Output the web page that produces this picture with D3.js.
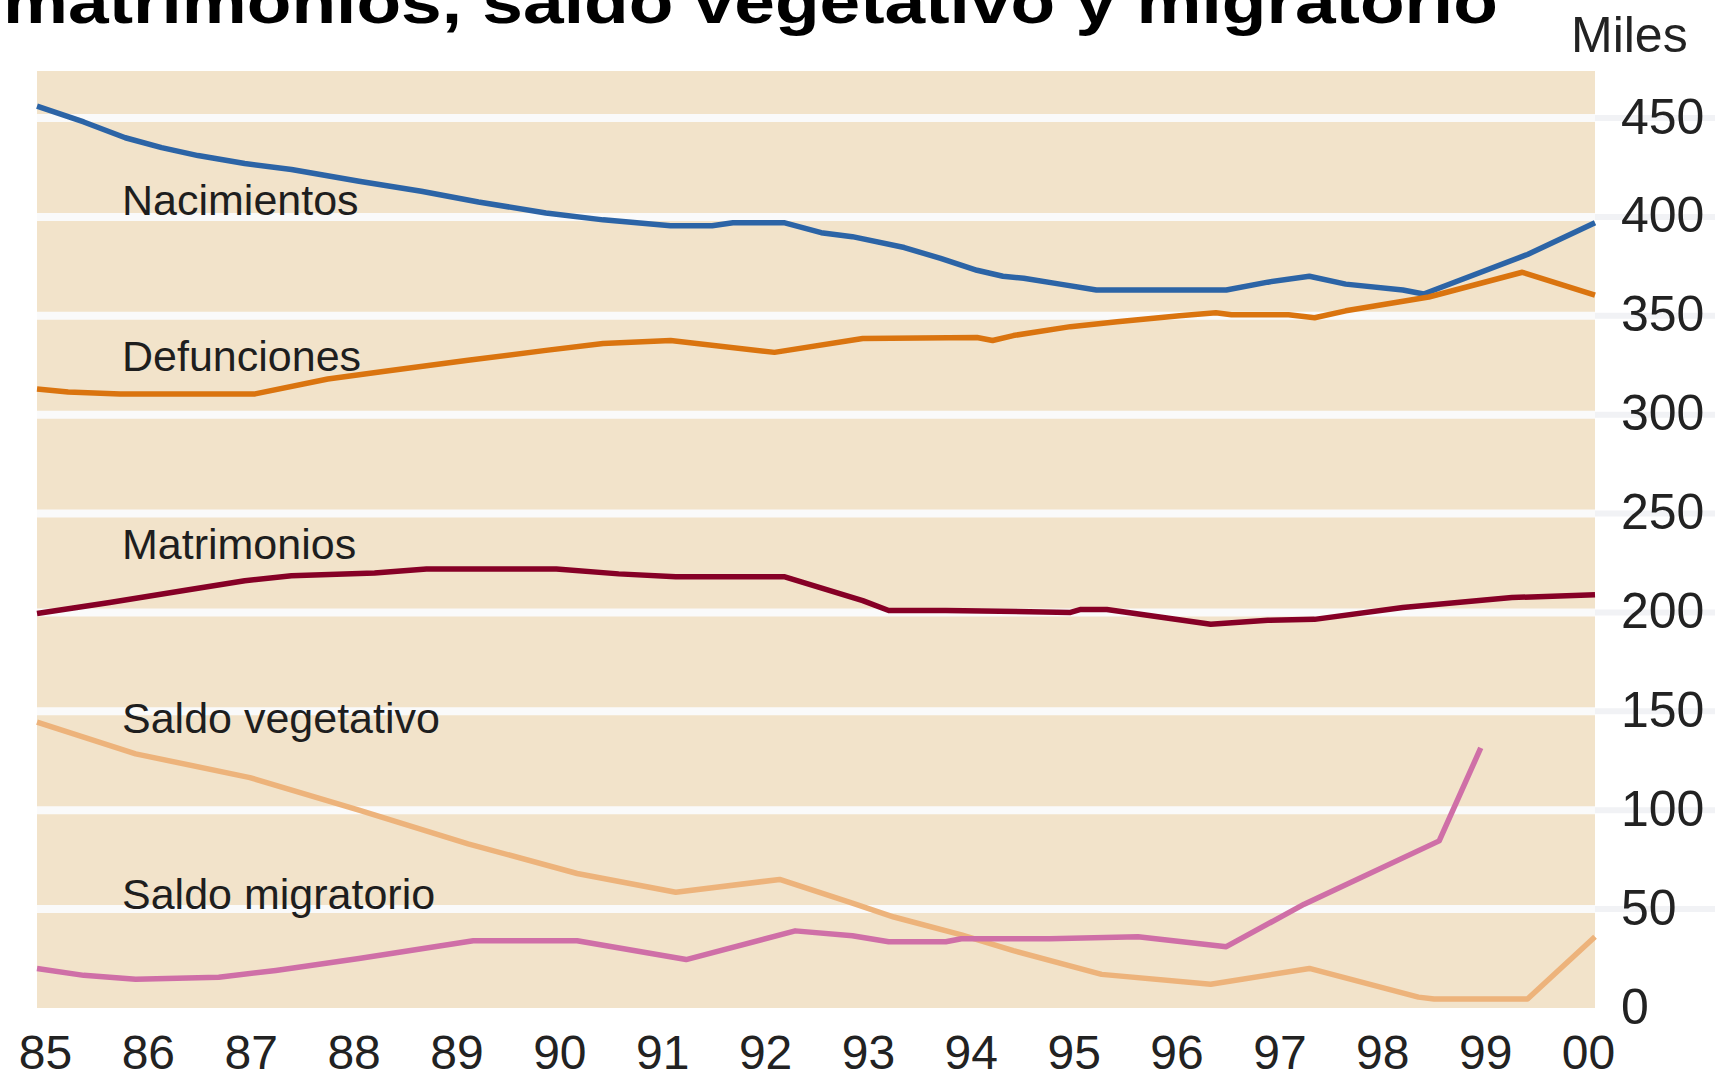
<!DOCTYPE html>
<html>
<head>
<meta charset="utf-8">
<script src="https://cdn.jsdelivr.net/npm/d3@7"></script>
<style>
  body { margin: 0; background: #fff; }
  svg { display: block; }
</style>
</head>
<body>
<div id="container"></div>
<script>
/* CONSTANTS AND GLOBALS */
const width = 1715,
  height = 1080,
  plot = { left: 37, right: 1595, top: 71, bottom: 1008 };

/* DATA (miles) */
const yearLabels = ["85", "86", "87", "88", "89", "90", "91", "92", "93", "94", "95", "96", "97", "98", "99", "00"];
const yTicks = [0, 50, 100, 150, 200, 250, 300, 350, 400, 450];

const nacYears = [1985.0, 1985.45, 1985.85, 1986.2, 1986.55, 1987.0, 1987.45, 1988.1, 1988.7, 1989.25, 1989.9, 1990.45, 1991.1, 1991.5, 1991.7, 1992.2, 1992.55, 1992.85, 1993.35, 1993.7, 1994.05, 1994.3, 1994.5, 1994.85, 1995.2, 1996.45, 1996.85, 1997.25, 1997.6, 1998.15, 1998.35, 1999.35, 2000];
const nacValues = [456, 448, 440, 435, 431, 427, 424, 418, 413, 407.5, 402, 398.5, 395.5, 395.5, 397, 397, 392, 390, 384.5, 379, 373, 370, 369, 366, 363, 363, 367, 370, 366, 363, 361, 381, 397];

const defYears = [1985.0, 1985.3, 1985.8, 1987.1, 1987.8, 1988.35, 1989.15, 1989.9, 1990.45, 1991.1, 1992.1, 1992.95, 1994.05, 1994.2, 1994.4, 1994.95, 1995.4, 1996.0, 1996.35, 1996.5, 1997.05, 1997.3, 1997.6, 1998.4, 1999.3, 2000];
const defValues = [313, 311.5, 310.5, 310.5, 318, 322, 327.5, 332.5, 336, 337.5, 331.5, 338.5, 339, 337.5, 340, 344.5, 347, 350, 351.5, 350.5, 350.5, 349, 352.5, 359.5, 372, 360.5];

const matYears = [1985.0, 1985.7, 1986.4, 1987.0, 1987.45, 1988.25, 1988.75, 1990.0, 1990.6, 1991.15, 1992.2, 1992.95, 1993.2, 1993.75, 1994.95, 1995.05, 1995.3, 1996.3, 1996.85, 1997.3, 1998.15, 1999.2, 2000];
const matValues = [199.5, 205, 211, 216, 218.5, 220, 222, 222, 219.5, 218, 218, 206, 201, 201, 200, 201.5, 201.5, 194, 196, 196.5, 202.5, 207.5, 209];

const vegYears = [1985.0, 1985.95, 1987.05, 1988.1, 1989.15, 1990.2, 1991.15, 1992.15, 1992.85, 1993.25, 1993.9, 1994.4, 1995.25, 1996.3, 1997.25, 1998.3, 1998.45, 1999.35, 2000];
const vegValues = [144.5, 128.5, 116.5, 100, 83, 68, 58.5, 65, 53, 46, 37, 29, 17, 12, 20, 5.5, 4.5, 4.5, 36];

const migYears = [1985.0, 1985.45, 1985.95, 1986.75, 1987.3, 1988.1, 1989.2, 1990.2, 1991.25, 1992.3, 1992.85, 1993.2, 1993.75, 1993.9, 1994.75, 1995.6, 1996.45, 1997.2, 1998.5, 1998.9];
const migValues = [20, 16.5, 14.5, 15.5, 19, 25, 34, 34, 24.5, 39, 36.5, 33.5, 33.5, 35, 35, 36, 31, 52.5, 84.5, 131.5];

const seriesNames = ["Nacimientos", "Defunciones", "Matrimonios", "Saldo vegetativo", "Saldo migratorio"];
const seriesColors = ["#2c64a6", "#da740f", "#860026", "#edb37b", "#cf6fa7"];
// value at which each name sits (baseline)
const labelValues = [401, 322, 227, 139, 50];

const series = [
  [nacYears, nacValues],
  [defYears, defValues],
  [matYears, matValues],
  [vegYears, vegValues],
  [migYears, migValues],
].map(([xs, vs], i) => ({
  name: seriesNames[i],
  color: seriesColors[i],
  labelValue: labelValues[i],
  points: xs.map((x, j) => ({ year: x, value: vs[j] })),
}));

/* SCALES */
const x = d3.scaleLinear().domain([1985, 2000]).range([plot.left, plot.right]);
const xLabel = d3.scalePoint().domain(yearLabels).range([45, 1588]);
const y = d3.scaleLinear().domain([0, 450]).range([plot.bottom, 118]);

const svg = d3.select("#container")
  .append("svg")
  .attr("width", width)
  .attr("height", height)
  .style("font-family", "'Liberation Sans', Arial, sans-serif");

// TITLE (only the lower line shows in the picture)
svg.append("text")
  .attr("x", 3)
  .attr("y", 23)
  .attr("font-size", 62)
  .attr("font-weight", "bold")
  .attr("fill", "#000")
  .attr("textLength", 1495)
  .attr("lengthAdjust", "spacingAndGlyphs")
  .text("matrimonios, saldo vegetativo y migratorio");

// PLOT BACKGROUND
svg.append("rect")
  .attr("x", plot.left)
  .attr("y", plot.top)
  .attr("width", plot.right - plot.left)
  .attr("height", plot.bottom - plot.top)
  .attr("fill", "#f2e3ca");

// GRIDLINES
const grid = svg.append("g");
grid.selectAll("line.out")
  .data(yTicks.filter(d => d > 0))
  .join("line")
  .attr("class", "out")
  .attr("x1", plot.right)
  .attr("x2", width)
  .attr("y1", d => y(d))
  .attr("y2", d => y(d))
  .attr("stroke", "#f1f2f5")
  .attr("stroke-width", 6);
grid.selectAll("line.in")
  .data(yTicks.filter(d => d > 0))
  .join("line")
  .attr("class", "in")
  .attr("x1", plot.left)
  .attr("x2", plot.right)
  .attr("y1", d => y(d))
  .attr("y2", d => y(d))
  .attr("stroke", "#fafafa")
  .attr("stroke-width", 8);

// Y AXIS (right side)
svg.append("g")
  .attr("transform", `translate(${plot.right + 26},0)`)
  .call(d3.axisRight(y).tickValues(yTicks).tickSize(0).tickPadding(0))
  .call(g => g.select(".domain").remove())
  .call(g => g.selectAll("text")
    .attr("font-size", 50)
    .attr("font-family", "'Liberation Sans', Arial, sans-serif")
    .attr("fill", "#222")
    .attr("dy", "0.3em"));

svg.append("text")
  .attr("x", 1571)
  .attr("y", 52)
  .attr("font-size", 50)
  .attr("fill", "#222")
  .text("Miles");

// X AXIS LABELS
svg.append("g")
  .attr("transform", `translate(0,${plot.bottom})`)
  .call(d3.axisBottom(xLabel).tickSize(0).tickPadding(0))
  .call(g => g.select(".domain").remove())
  .call(g => g.selectAll("text")
    .attr("font-size", 48)
    .attr("font-family", "'Liberation Sans', Arial, sans-serif")
    .attr("fill", "#222")
    .attr("dy", 0)
    .attr("y", 61));

// LINES
const lineGen = d3.line()
  .x(d => x(d.year))
  .y(d => y(d.value));

svg.selectAll("path.series")
  .data(series)
  .join("path")
  .attr("class", "series")
  .attr("d", d => lineGen(d.points))
  .attr("fill", "none")
  .attr("stroke", d => d.color)
  .attr("stroke-width", 5.5)
  .attr("stroke-linejoin", "round");

// SERIES NAMES
svg.selectAll("text.name")
  .data(series)
  .join("text")
  .attr("class", "name")
  .attr("x", 122)
  .attr("y", d => y(d.labelValue))
  .attr("font-size", 43)
  .attr("fill", "#1e1e1e")
  .text(d => d.name);
</script>
</body>
</html>
